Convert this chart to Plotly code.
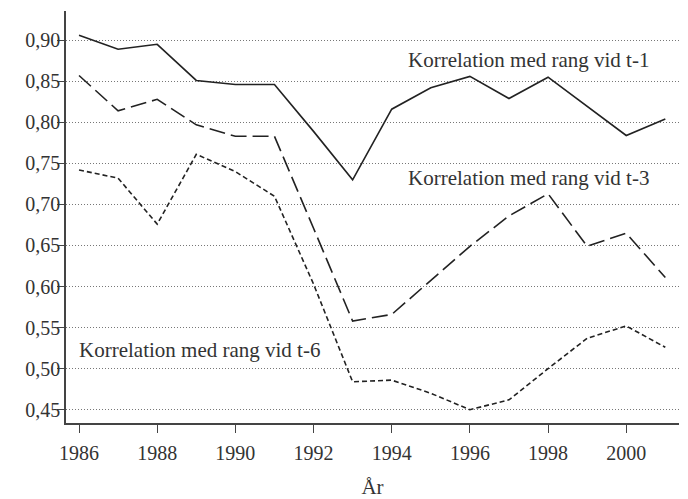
import plotly.graph_objects as go

years = list(range(1986, 2002))
t1 = [0.906, 0.889, 0.895, 0.851, 0.846, 0.846, 0.789, 0.730, 0.816, 0.842,
      0.856, 0.829, 0.855, 0.820, 0.784, 0.804]
t3 = [0.857, 0.814, 0.828, 0.797, 0.783, 0.783, 0.671, 0.558, 0.566, 0.607,
      0.649, 0.686, 0.713, 0.649, 0.665, 0.611]
t6 = [0.742, 0.732, 0.676, 0.761, 0.740, 0.710, 0.603, 0.484, 0.486, 0.470,
      0.450, 0.462, 0.500, 0.537, 0.552, 0.526]

ytick_vals = [0.45, 0.50, 0.55, 0.60, 0.65, 0.70, 0.75, 0.80, 0.85, 0.90]
ytick_text = ["0,45", "0,50", "0,55", "0,60", "0,65", "0,70", "0,75", "0,80", "0,85", "0,90"]
xtick_vals = [1986, 1988, 1990, 1992, 1994, 1996, 1998, 2000]

labels = ["Korrelation med rang vid t-1", "Korrelation med rang vid t-3", "Korrelation med rang vid t-6"]
label_x = [1994.36, 1994.36, 1985.94]
label_y = [0.8757, 0.732, 0.523]

FONT = "Liberation Serif"
INK = "#222222"

fig = go.Figure()
fig.add_trace(go.Scatter(x=years, y=t1, mode="lines", line=dict(color=INK, width=1.6)))
fig.add_trace(go.Scatter(x=years, y=t3, mode="lines", line=dict(color=INK, width=1.6, dash="16px,6px")))
fig.add_trace(go.Scatter(x=years, y=t6, mode="lines", line=dict(color=INK, width=1.6, dash="5px,3px")))

for t, x, y in zip(labels, label_x, label_y):
    fig.add_annotation(x=x, y=y, text=t, showarrow=False, xanchor="left", yanchor="middle",
                       font=dict(family=FONT, size=21, color="#333333"))

# page body adds an 8px offset; size/margins compensate for it
fig.update_layout(
    width=680, height=491,
    margin=dict(l=58, r=9, t=3, b=76),
    paper_bgcolor="white", plot_bgcolor="white",
    showlegend=False,
    font=dict(family=FONT, size=20, color="#333333"),
)
fig.update_xaxes(
    range=[1985.667, 2001.35], tickvals=xtick_vals, ticks="outside", ticklen=8,
    tickcolor="#444444", showline=True, linecolor="#444444", linewidth=1.5,
    showgrid=False, zeroline=False, ticklabelstandoff=3, automargin=False,
    title=dict(text="År", font=dict(family=FONT, size=21), standoff=18),
)
fig.update_yaxes(
    range=[0.4338, 0.9356], tickvals=ytick_vals, ticktext=ytick_text, ticks="outside",
    ticklen=7, tickcolor="#444444", showline=True, linecolor="#444444", linewidth=1.5,
    showgrid=True, gridcolor="#777777", gridwidth=1, griddash="1px,2px", zeroline=False,
    automargin=False, ticklabelstandoff=-7,
)

fig.write_html("out.html")
